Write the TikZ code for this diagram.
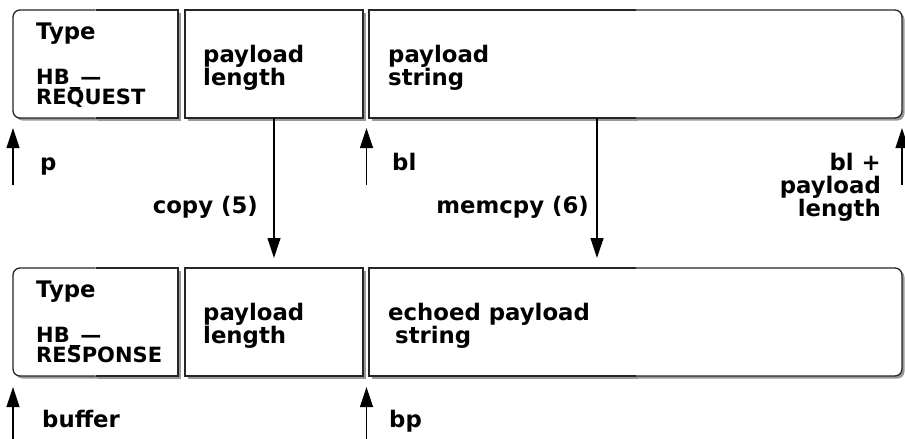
\documentclass[tikz,border=0pt]{standalone}
\usepackage{graphicx}
\usepackage{fontspec}
\setmainfont{DejaVu Sans}
\usetikzlibrary{arrows.meta}
\definecolor{shadowc}{gray}{0.6}
\definecolor{edgec}{gray}{0.15}
\newcommand\lns[2][l]{\begin{tabular}[t]{@{}#1@{}}#2\end{tabular}}
\tikzset{
  field/.style={draw=none, inner sep=0pt, outer sep=0pt, rectangle},
  edge/.style={draw=edgec, line width=1.3pt},
  txt/.style={inner sep=0pt, font=\fontsize{22.8}{20}\selectfont\bfseries},
  captxt/.style={txt, font=\fontsize{21}{20}\selectfont\bfseries},
  arr/.style={line width=1.2pt, -{Triangle[length=20pt,width=13pt]}}
}
\newcommand\boxL[1]{%
  \fill[shadowc,rounded corners=7pt] ([shift={(2.5pt,-2.5pt)}]#1.south west) rectangle ([shift={(2.5pt,-2.5pt)}]#1.north east);
  \fill[shadowc] ([shift={(2.5pt,-2.5pt)}]#1.south) rectangle ([shift={(2.5pt,-2.5pt)}]#1.north east);
  \fill[white,rounded corners=7pt] (#1.south west) rectangle (#1.north east);
  \fill[white] (#1.south) rectangle (#1.north east);
  \draw[edge,rounded corners=7pt] (#1.north) -- (#1.north west) -- (#1.south west) -- (#1.south);
  \draw[edge] (#1.north) -- (#1.north east) -- (#1.south east) -- (#1.south);}
\newcommand\boxM[1]{%
  \fill[shadowc] ([shift={(2.5pt,-2.5pt)}]#1.south west) rectangle ([shift={(2.5pt,-2.5pt)}]#1.north east);
  \draw[edge,fill=white] (#1.south west) rectangle (#1.north east);}
\newcommand\boxR[1]{%
  \fill[shadowc,rounded corners=7pt] ([shift={(2.5pt,-2.5pt)}]#1.south west) rectangle ([shift={(2.5pt,-2.5pt)}]#1.north east);
  \fill[shadowc] ([shift={(2.5pt,-2.5pt)}]#1.south west) rectangle ([shift={(2.5pt,-2.5pt)}]#1.north);
  \fill[white,rounded corners=7pt] (#1.south west) rectangle (#1.north east);
  \fill[white] (#1.south west) rectangle (#1.north);
  \draw[edge,rounded corners=7pt] (#1.north) -- (#1.north east) -- (#1.south east) -- (#1.south);
  \draw[edge] (#1.north) -- (#1.north west) -- (#1.south west) -- (#1.south);}
\begin{document}
\begin{tikzpicture}[x=1pt,y=-1pt]
\fill[white] (0,0) rectangle (905,439);
\useasboundingbox (0,0) rectangle (905,439);
% fields
\node[field, minimum width=165pt, minimum height=108pt] (t1) at (95.5,64) {};
\node[field, minimum width=178pt, minimum height=108pt] (t2) at (274,64) {};
\node[field, minimum width=533pt, minimum height=108pt] (t3) at (635.5,64) {};
\node[field, minimum width=165pt, minimum height=108pt] (b1) at (95.5,322) {};
\node[field, minimum width=178pt, minimum height=108pt] (b2) at (274,322) {};
\node[field, minimum width=533pt, minimum height=108pt] (b3) at (635.5,322) {};
\boxL{t1}\boxM{t2}\boxR{t3}
\boxL{b1}\boxM{b2}\boxR{b3}
% field texts
\node[txt, anchor=base west] (ty1) at (36,39) {Type};
\node[captxt, anchor=base west] (hb1) at (36,84) {\lns{HB\_—\\[-1.5pt]REQUEST}};
\node[txt, anchor=base west] (pl1) at (203,62) {\lns{payload\\length}};
\node[txt, anchor=base west] (ps1) at (388,62) {\lns{payload\\string}};
\node[txt, anchor=base west] (ty2) at (36,297) {Type};
\node[captxt, anchor=base west] (hb2) at (36,342) {\lns{HB\_—\\[-1.5pt]RESPONSE}};
\node[txt, anchor=base west] (pl2) at (203,320) {\lns{payload\\length}};
\node[txt, anchor=base west] (ps2) at (388,320) {\lns{echoed payload\\\hspace*{7pt}string}};
% pointer labels
\node[txt, anchor=base west] (lp) at (40,170) {p};
\node[txt, anchor=base west] (lbl) at (392,170) {bl};
\node[txt, anchor=base east] (lend) at (881,170) {\lns[r]{bl +\\payload\\length}};
\node[txt, anchor=base east] (lcopy) at (258,213) {copy (5)};
\node[txt, anchor=base east] (lmem) at (589,213) {memcpy (6)};
\node[txt, anchor=base west] (lbuf) at (42,427) {buffer};
\node[txt, anchor=base west] (lbp) at (389,427) {bp};
% pointer tails
\coordinate (pT) at (13,185);
\coordinate (blT) at (366.5,185);
\coordinate (endT) at (902,185);
\coordinate (bufT) at (13,439);
\coordinate (bpT) at (366.5,439);
% arrows
\draw[arr] (pT) -- ([yshift=-10pt]t1.south west);
\draw[arr] (blT) -- ([xshift=-2.5pt,yshift=-10pt]t3.south west);
\draw[arr] (endT) -- ([yshift=-10pt]t3.south east);
\draw[arr] (bufT) -- ([yshift=-11pt]b1.south west);
\draw[arr] (bpT) -- ([xshift=-2.5pt,yshift=-11pt]b3.south west);
\draw[arr] (t2.south) -- ([yshift=10pt]b2.north);
\draw[arr] ([xshift=228pt]t3.south west) -- ([xshift=228pt,yshift=10pt]b3.north west);
\end{tikzpicture}
\end{document}
